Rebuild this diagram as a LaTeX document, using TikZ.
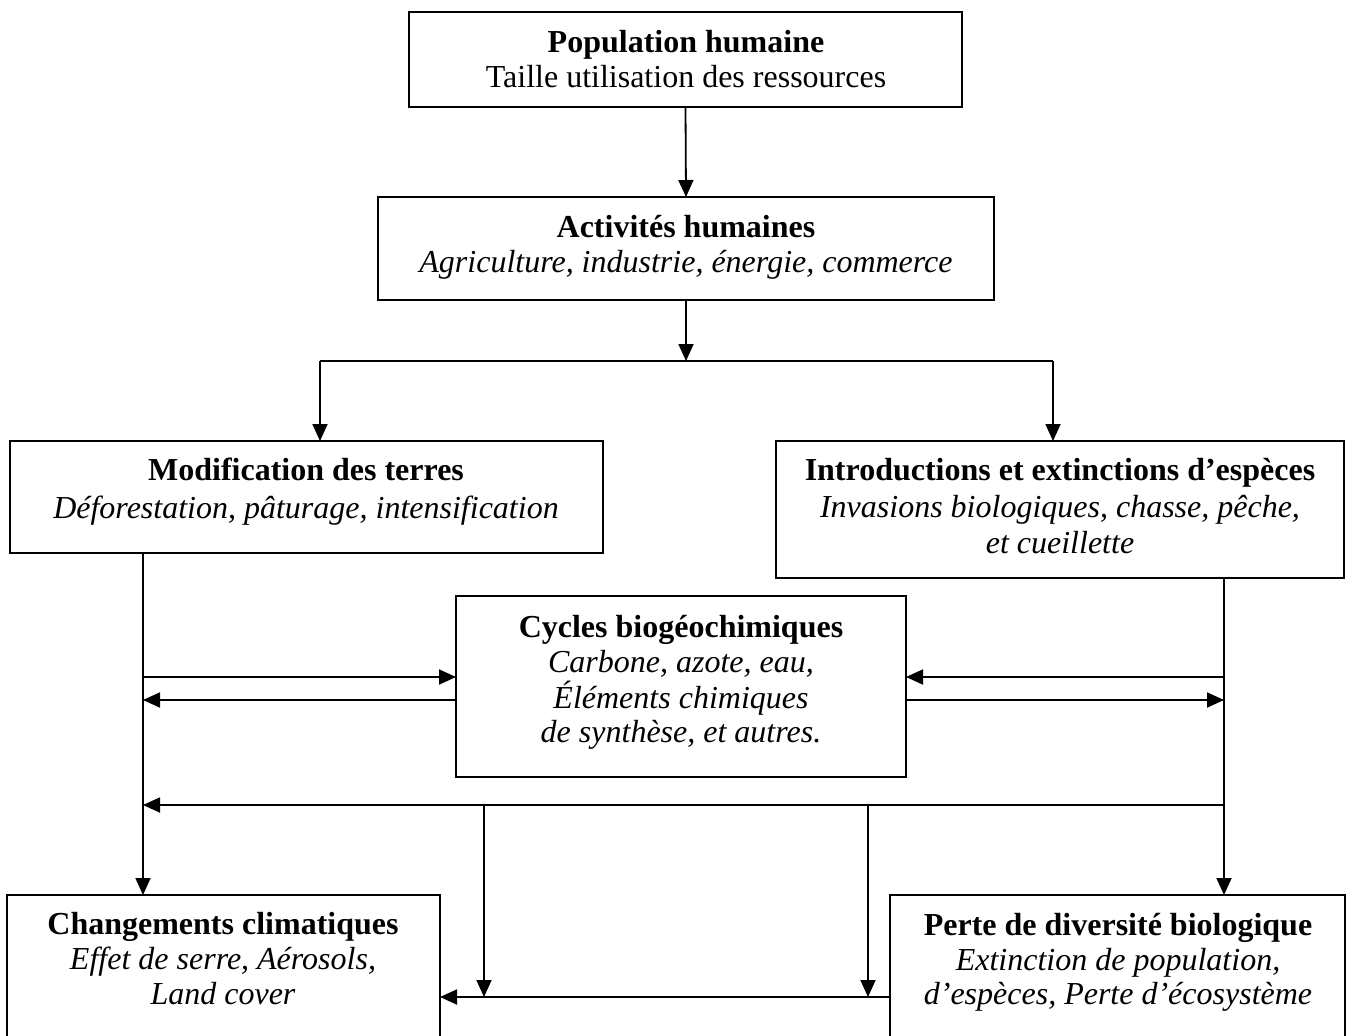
\documentclass[tikz,border=0pt]{standalone}
\usepackage{fontspec}
\setmainfont{Liberation Serif}
\usetikzlibrary{arrows.meta}
\begin{document}
\begin{tikzpicture}[x=1pt,y=1pt,
  box/.style={draw, line width=1.8pt, inner sep=0pt, outer sep=0pt},
  ln/.style={line width=1.8pt},
  arr/.style={line width=1.8pt, -{Triangle[length=17pt,width=15pt]}},
  tt/.style={font=\fontsize{32}{38}\selectfont\bfseries, anchor=base, inner sep=0pt},
  sub/.style={font=\fontsize{32}{38}\selectfont\itshape, anchor=base, inner sep=0pt},
  up/.style={font=\fontsize{32}{38}\selectfont, anchor=base, inner sep=0pt}
]
\fill[white] (0,0) rectangle (1371,-1036);
\useasboundingbox (0,0) rectangle (1371,-1036);

% boxes
\node[box, minimum width=553pt, minimum height=95pt]  (pop)    at (685.5,-59.5) {};
\node[box, minimum width=616pt, minimum height=103pt] (act)    at (686,-248.5) {};
\node[box, minimum width=593pt, minimum height=112pt] (modif)  at (306.5,-497) {};
\node[box, minimum width=568pt, minimum height=137pt] (intro)  at (1060,-509.5) {};
\node[box, minimum width=450pt, minimum height=181pt] (cycles) at (681,-686.5) {};
\node[box, minimum width=433pt, minimum height=145pt] (chang)  at (223.5,-967.5) {};
\node[box, minimum width=455pt, minimum height=145pt] (perte)  at (1117.5,-967.5) {};

% texts
\node[tt] (popA) at (686,-52) {Population humaine};
\node[up] (popB) at (686,-87) {Taille utilisation des ressources};
\node[tt] (actA) at (686,-237) {Activités humaines};
\node[sub] (actB) at (686,-272) {Agriculture, industrie, énergie, commerce};
\node[tt] (modA) at (306,-480) {Modification des terres};
\node[sub] (modB) at (306,-518) {Déforestation, pâturage, intensification};
\node[tt] (intA) at (1060,-480) {Introductions et extinctions d’espèces};
\node[sub] (intB) at (1060,-517) {Invasions biologiques, chasse, pêche,};
\node[sub] (intC) at (1060,-553) {et cueillette};
\node[tt] (cycA) at (681,-637) {Cycles biogéochimiques};
\node[sub] (cycB) at (681,-672) {Carbone, azote, eau,};
\node[sub] (cycC) at (681,-708) {Éléments chimiques};
\node[sub] (cycD) at (681,-742) {de synthèse, et autres.};
\node[tt] (chaA) at (223,-934) {Changements climatiques};
\node[sub] (chaB) at (223,-969) {Effet de serre, Aérosols,};
\node[sub] (chaC) at (223,-1004) {Land cover};
\node[tt] (perA) at (1118,-935) {Perte de diversité biologique};
\node[sub] (perB) at (1118,-970) {Extinction de population,};
\node[sub] (perC) at (1118,-1004) {d’espèces, Perte d’écosystème};

% helper coordinates
\coordinate (bM) at (686,-361);
\coordinate (bL) at (320,-361);
\coordinate (bR) at (1053,-361);
\coordinate (LX) at (143,0);
\coordinate (RX) at (1224,0);
\coordinate (A1) at (0,-677);
\coordinate (A2) at (0,-700);
\coordinate (H)  at (0,-805);
\coordinate (V1) at (484,-805);
\coordinate (V2) at (868,-805);
\coordinate (B)  at (0,-997);

% connectors
\draw[arr] (pop.south) -- (act.north);
\draw[arr] (act.south) -- (bM);
\draw[ln] (bL) -- (bR);
\draw[arr] (bL) -- (bL |- modif.north);
\draw[arr] (bR) -- (bR |- intro.north);

\draw[arr] (modif.south -| LX) -- (chang.north -| LX);
\draw[arr] (intro.south -| RX) -- (perte.north -| RX);

\draw[arr] (LX |- A1) -- (cycles.west |- A1);
\draw[arr] (cycles.west |- A2) -- (LX |- A2);
\draw[arr] (RX |- A1) -- (cycles.east |- A1);
\draw[arr] (cycles.east |- A2) -- (RX |- A2);

\draw[arr] (RX |- H) -- (LX |- H);
\draw[arr] (V1) -- (V1 |- B);
\draw[arr] (V2) -- (V2 |- B);
\draw[arr] (perte.west |- B) -- (chang.east |- B);
\end{tikzpicture}
\end{document}
